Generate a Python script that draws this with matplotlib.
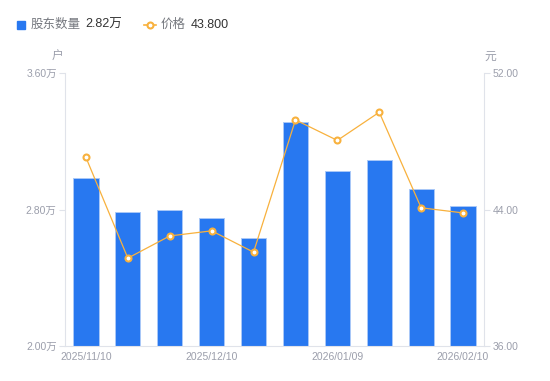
# 股东数量与价格 - 柱状图 + 折线图（双轴）

import matplotlib.pyplot as plt
from matplotlib.lines import Line2D
from matplotlib.patches import Rectangle

# 数据
dates = ["2025/11/10", "2025/11/20", "2025/11/30", "2025/12/10", "2025/12/20",
         "2025/12/31", "2026/01/09", "2026/01/20", "2026/01/30", "2026/02/10"]
holders = [2.985, 2.787, 2.797, 2.748, 2.635, 3.313, 3.025, 3.088, 2.920, 2.820]  # 万户
price = [47.05, 41.15, 42.45, 42.75, 41.50, 49.25, 48.05, 49.70, 44.10, 43.80]
xtick_idx = [0, 3, 6, 9]

BLUE = "#2878f0"
ORANGE = "#f8b13d"
AXIS = "#e0e3ea"
TXT = "#9b9eab"

plt.rcParams["font.family"] = ["Liberation Sans", "Noto Sans CJK SC"]


def main():
    fig = plt.figure(figsize=(5.5, 3.81), dpi=100)
    ax = fig.add_axes([65 / 550, 1 - 346 / 381, (484 - 65) / 550, (346 - 73) / 381])
    ax2 = ax.twinx()

    x = list(range(len(dates)))
    ax.bar(x, holders, width=0.6, color=BLUE, edgecolor="#a9c8f8", linewidth=0.7, zorder=2)
    ax.set_ylim(2.0, 3.6)
    ax.set_xlim(-0.5, len(dates) - 0.5)
    ax.set_yticks([2.0, 2.8, 3.6])
    ax.set_yticklabels(["2.00万", "2.80万", "3.60万"])

    ax2.plot(x, price, color=ORANGE, lw=0.9, marker="o", ms=4.3, mfc="white",
             mec=ORANGE, mew=1.5, zorder=3)
    ax2.set_ylim(36, 52)
    ax2.set_yticks([36, 44, 52])
    ax2.set_yticklabels(["36.00", "44.00", "52.00"])

    ax.set_xticks(xtick_idx)
    ax.set_xticklabels([dates[i] for i in xtick_idx])

    for a in (ax, ax2):
        for s in a.spines.values():
            s.set_visible(False)
        a.tick_params(colors=TXT, labelsize=7.5, length=4, width=0.8)
        a.tick_params(axis="y", color=AXIS)
    ax.spines["left"].set_visible(True)
    ax.spines["left"].set_color(AXIS)
    ax.spines["bottom"].set_visible(True)
    ax.spines["bottom"].set_color(AXIS)
    ax2.spines["right"].set_visible(True)
    ax2.spines["right"].set_color(AXIS)
    ax.tick_params(axis="x", length=0, pad=4)
    ax.tick_params(axis="y", pad=2)
    ax2.tick_params(axis="y", pad=2)

    # 轴标题
    fig.text(58 / 550, 1 - 57 / 381, "户", color=TXT, fontsize=8.5, ha="center", va="center")
    fig.text(490 / 550, 1 - 57 / 381, "元", color=TXT, fontsize=8.5, ha="center", va="center")

    # 图例
    fig.patches.append(Rectangle((17 / 550, 1 - 29 / 381), 8 / 550, 8 / 381,
                                 transform=fig.transFigure, color=BLUE))
    fig.text(31 / 550, 1 - 24.5 / 381, "股东数量", color="#75787f", fontsize=9, va="center")
    fig.text(85 / 550, 1 - 24.5 / 381, "2.82万", color="#333333", fontsize=9, va="center")
    fig.lines.append(Line2D([144 / 550, 156 / 550], [1 - 24.5 / 381] * 2, transform=fig.transFigure,
                            color=ORANGE, lw=1.2))
    fig.lines.append(Line2D([150 / 550], [1 - 24.5 / 381], transform=fig.transFigure,
                            color=ORANGE, marker="o", ms=4.3, mfc="white", mew=1.5, lw=0))
    fig.text(161 / 550, 1 - 24.5 / 381, "价格", color="#75787f", fontsize=9, va="center")
    fig.text(191 / 550, 1 - 24.5 / 381, "43.800", color="#333333", fontsize=9, va="center")

    fig.savefig("out.png", dpi=100)
    plt.close(fig)


if __name__ == "__main__":
    main()
